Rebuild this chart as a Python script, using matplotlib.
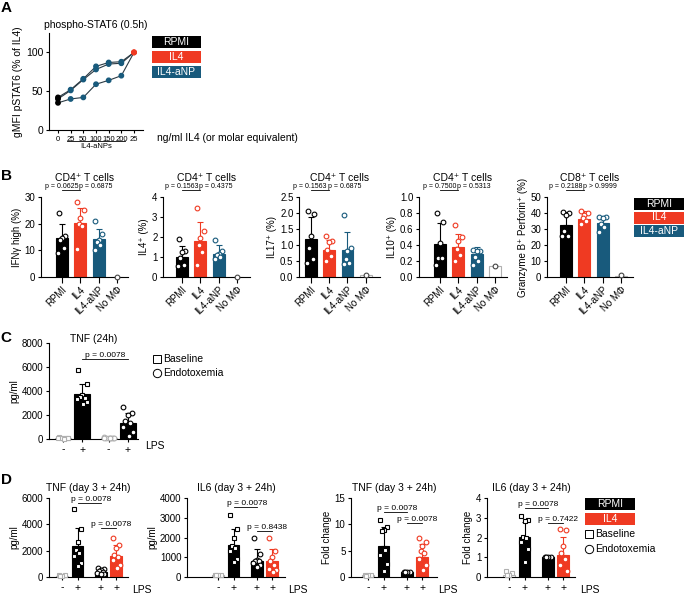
import numpy as np
import matplotlib
matplotlib.use("Agg")
import matplotlib.pyplot as plt
import matplotlib.transforms as mtransforms
from matplotlib.patches import Rectangle

plt.rcParams['font.family'] = ['Liberation Sans', 'DejaVu Sans']
plt.rcParams['font.size'] = 7
plt.rcParams['axes.linewidth'] = 0.8
plt.rcParams['xtick.major.width'] = 0.8
plt.rcParams['ytick.major.width'] = 0.8
plt.rcParams['xtick.major.size'] = 2.5
plt.rcParams['ytick.major.size'] = 2.5
plt.rcParams['xtick.major.pad'] = 1.5
plt.rcParams['ytick.major.pad'] = 1.5
plt.rcParams['axes.labelpad'] = 2

W, H = 684, 594
RED = '#EF3A22'
TEAL = '#185A7C'
GREY = '#B0B0B0'

# ---- A: phospho-STAT6 dose response (% of IL4)
a_ticks = ['0', '25', '50', '100', '150', '200', '25']
a_rep1 = [42, 52, 66, 82, 87, 88, 100]
a_rep2 = [40, 51, 65, 78, 85, 86, 100]
a_rep3 = [35, 40, 42, 59, 64, 70, 100]

# ---- B: T cell readouts
b_groups = ['RPMI', 'IL4', 'IL4-aNP', 'No MΦ']
ifng_mean = [14.8, 20.4, 14.3, 0]
ifng_sd = [5.0, 5.6, 3.7, 0]
ifng_pts = [[24, 15.5, 14.5, 14, 11, 9], [28, 25, 22, 20, 19, 10.5],
            [21, 16, 14, 13, 12, 10], [0]]
il4_mean = [1.02, 1.8, 1.16, 0]
il4_sd = [0.55, 0.96, 0.44, 0]
il4_pts = [[1.9, 1.3, 1.25, 0.95, 0.6, 0.55], [3.45, 2.3, 1.95, 1.6, 1.25, 0.6],
           [1.85, 1.3, 1.15, 1.1, 1.0, 0.9], [0]]
il17_mean = [1.18, 0.83, 0.83, 0.05]
il17_sd = [0.69, 0.33, 0.58, 0]
il17_pts = [[2.05, 1.97, 1.28, 0.9, 0.57, 0.44], [1.28, 1.12, 1.1, 0.85, 0.67, 0.49],
            [1.95, 0.9, 0.8, 0.55, 0.45, 0.4], [0.07]]
il10_mean = [0.41, 0.38, 0.29, 0.14]
il10_sd = [0.27, 0.16, 0.09, 0]
il10_pts = [[0.8, 0.69, 0.43, 0.24, 0.24, 0.15], [0.65, 0.5, 0.45, 0.35, 0.28, 0.2],
            [0.34, 0.33, 0.32, 0.25, 0.2, 0.15], [0.14]]
gzmb_mean = [32.8, 36.2, 33.7, 0.5]
gzmb_sd = [7.9, 5.1, 4.5, 0]
gzmb_pts = [[40.5, 40, 38.5, 29, 25.5, 25.5], [41, 40, 39, 37, 35, 33],
            [37.6, 37.3, 37, 33, 31, 28.4], [1]]

# ---- C: TNF (24h)
lps_c = ['-', '+', '-', '+']
tnf24_mean = [90, 3740, 80, 1360]
tnf24_sd = [0, 840, 0, 790]
tnf24_pts = [[150, 120, 100, 100, 80, 60, 50, 40],
             [5770, 4600, 3700, 3500, 3400, 3300, 3100, 2900],
             [130, 110, 100, 90, 80, 70, 60, 50],
             [2700, 2150, 2000, 1500, 1300, 1000, 600, 250]]

# ---- D: day 3 + 24h
lps_d = ['-', '+', '+', '+']
d_tnf_mean = [100, 2330, 350, 1570]
d_tnf_sd = [0, 1390, 180, 880]
d_tnf_pts = [[150, 120, 100, 80], [5170, 3670, 2630, 2080, 1820, 1620, 1060, 810],
             [700, 600, 550, 450, 400, 300, 250, 200],
             [2970, 2450, 2200, 1700, 1500, 1300, 900, 700]]
d_il6_mean = [80, 1640, 800, 800]
d_il6_sd = [0, 790, 600, 600]
d_il6_pts = [[120, 100, 90, 80], [3160, 2430, 1950, 1550, 1450, 1300, 900, 750],
             [2000, 1150, 850, 800, 800, 700, 600, 500],
             [1950, 1300, 1000, 800, 600, 400, 350, 250]]
d_tnf_fc_mean = [0.3, 5.85, 1.0, 3.85]
d_tnf_fc_sd = [0, 3.65, 0, 2.35]
d_tnf_fc_pts = [[0.45, 0.35, 0.3, 0.25], [10.9, 9.4, 9.0, 8.7, 5.2, 4.1, 2.4, 1.2],
                [1, 1, 1, 1], [7.5, 6.7, 5.8, 4.9, 4.5, 3.4, 2.2, 1.3]]
d_il6_fc_mean = [0.12, 2.03, 1.0, 1.13]
d_il6_fc_sd = [0, 0.74, 0, 0.9]
d_il6_fc_pts = [[0.28, 0.2, 0.12, 0.1], [3.07, 2.9, 2.85, 2.05, 2.0, 1.75, 1.4, 0.75],
                [1, 1, 1, 1], [2.45, 2.4, 1.55, 1.2, 0.9, 0.6, 0.3]]

fig = plt.figure(figsize=(W / 100, H / 100), dpi=100)


def px_axes(l, t, r, b):
    ax = fig.add_axes([l / W, 1 - b / H, (r - l) / W, (b - t) / H])
    ax.spines[['top', 'right']].set_visible(False)
    return ax


SPREAD = [-0.18, 0.18, 0.0, -0.1, 0.1, -0.2, 0.2, 0.04]


def bar_dots(ax, xs, means, sds, pts, faces, edges, marks, dot_edges=None, width=0.65, ms=3.4):
    dot_edges = dot_edges or edges
    for x, m, s, p, fc, ec, de, mk in zip(xs, means, sds, pts, faces, edges, dot_edges, marks):
        ax.bar(x, m, width=width, color=fc, edgecolor=ec, linewidth=0.8, zorder=2)
        if s > 0:
            ax.errorbar(x, m, yerr=[[0], [s]], fmt='none', ecolor=ec, elinewidth=0.8,
                        capsize=2.2, capthick=0.8, zorder=1.5)
        offs = [0.0] if len(p) == 1 else np.array(SPREAD[:len(p)]) * width / 0.65
        ax.plot(x + np.asarray(offs), p, ls='none', marker=mk, ms=ms, mfc='white',
                mec=de, mew=0.8, zorder=3, clip_on=False)


def pval(ax, x1, x2, y, text, dx=0.15):
    ax.plot([x1, x2], [y, y], color='black', lw=0.6, clip_on=False)
    ax.text((x1 + x2) / 2 + dx, y, text, ha='center', va='bottom', fontsize=6, clip_on=False)


# ================= A
axA = px_axes(49, 33, 143, 130)
xa = np.arange(len(a_ticks))
for rep in (a_rep1, a_rep2, a_rep3):
    axA.plot(xa, rep, color='#2a3a44', lw=0.8, zorder=2)
    dot_cols = ['black'] + [TEAL] * 5 + [RED]
    axA.scatter(xa, rep, c=dot_cols, s=10, zorder=3, clip_on=False)
axA.set_xlim(-0.71, 6.71)
axA.set_ylim(0, 125)
axA.set_yticks([0, 50, 100])
axA.tick_params(axis='y', labelsize=7.5)
axA.set_xticks(xa)
axA.set_xticklabels(a_ticks, fontsize=5.5)
axA.set_ylabel('gMFI pSTAT6 (% of IL4)', fontsize=7.5)
axA.text(0.5, 1.08, 'phospho-STAT6 (0.5h)', transform=axA.transAxes, ha='center', va='center', fontsize=7.5)
trA = mtransforms.blended_transform_factory(axA.transData, axA.transAxes)
axA.plot([0.75, 5.25], [-0.115, -0.115], color='black', lw=0.6, transform=trA, clip_on=False)
axA.text(3, -0.165, 'IL4-aNPs', transform=trA, ha='center', va='center', fontsize=5.5)

# ================= B
b_specs = [
    (41, 128, -1.15, ifng_mean, ifng_sd, ifng_pts, 'IFNγ high (%)', 30, 10, 'CD4⁺ T cells', 'p = 0.0625', 'p = 0.6875'),
    (163, 250, -1.04, il4_mean, il4_sd, il4_pts, 'IL4⁺ (%)', 4, 1, 'CD4⁺ T cells', 'p = 0.1563', 'p = 0.4375'),
    (299, 380, -0.65, il17_mean, il17_sd, il17_pts, 'IL17⁺ (%)', 2.5, 0.5, 'CD4⁺ T cells', 'p = 0.1563', 'p = 0.6875'),
    (419, 507, -1.15, il10_mean, il10_sd, il10_pts, 'IL10⁺ (%)', 1.0, 0.2, 'CD4⁺ T cells', 'p = 0.7500', 'p = 0.5313'),
    (547, 633, -1.04, gzmb_mean, gzmb_sd, gzmb_pts, 'Granzyme B⁺ Perforin⁺ (%)', 50, 10, 'CD8⁺ T cells', 'p = 0.2188', 'p > 0.9999'),
]
xb = np.arange(len(b_groups))
for l, r, x0, mean, sd, pts, ylab, ytop, ystep, title, p1, p2 in b_specs:
    ax = px_axes(l, 197, r, 277)
    bar_dots(ax, xb, mean, sd, pts, ['black', RED, TEAL, 'white'], ['black', RED, TEAL, GREY],
             ['o'] * 4, dot_edges=['black', RED, TEAL, '#444444'])
    ax.set_xlim(x0, x0 + (r - l) / 18.3)
    ax.set_ylim(0, ytop)
    ax.set_yticks(np.arange(0, ytop + ystep / 2, ystep))
    ax.set_xticks(xb)
    ax.set_xticklabels(b_groups, rotation=45, ha='right', rotation_mode='anchor')
    ax.tick_params(axis='x', length=4)
    ax.set_ylabel(ylab)
    ax.text(0.5, 1.24, title, transform=ax.transAxes, ha='center', va='center', fontsize=7.5)
    tr = mtransforms.blended_transform_factory(ax.transData, ax.transAxes)
    ax.plot([0, 1], [1.085, 1.085], color='black', lw=0.6, transform=tr, clip_on=False)
    ax.text(0.88, 1.085, p1, transform=tr, ha='right', va='bottom', fontsize=5)
    ax.text(0.92, 1.085, p2, transform=tr, ha='left', va='bottom', fontsize=5)

# ================= C
axC = px_axes(49, 343, 138, 439)
xc = np.array([0, 1, 2.4, 3.4])
bar_dots(axC, xc, tnf24_mean, tnf24_sd, tnf24_pts, ['white', 'black', 'white', 'black'],
         [GREY, 'black', GREY, 'black'], ['s', 's', 'o', 'o'], width=0.85)
axC.set_xlim(-0.74, -0.74 + 89 / 19)
axC.set_ylim(0, 8000)
axC.set_yticks(np.arange(0, 8001, 2000))
axC.set_xticks(xc)
axC.set_xticklabels(lps_c, fontsize=7.5)
axC.set_ylabel('pg/ml')
axC.text(0.5, 1.04, 'TNF (24h)', transform=axC.transAxes, ha='center', va='center', fontsize=7.5)
pval(axC, 1, 3.4, 6650, 'p = 0.0078', dx=0.0)

# ================= D
d_specs = [
    (49, 128, -0.84, d_tnf_mean, d_tnf_sd, d_tnf_pts, 'pg/ml', 6000, 2000, 'TNF (day 3 + 24h)',
     [(1, 2.5, 5600, 'p = 0.0078'), (2.5, 3.5, 3730, 'p = 0.0078')]),
    (187, 285, -2.0, d_il6_mean, d_il6_sd, d_il6_pts, 'pg/ml', 4000, 1000, 'IL6 (day 3 + 24h)',
     [(1, 2.5, 3540, 'p = 0.0078'), (2.5, 3.5, 2340, 'p = 0.8438')]),
    (351, 437, -1.1, d_tnf_fc_mean, d_tnf_fc_sd, d_tnf_fc_pts, 'Fold change', 15, 5, 'TNF (day 3 + 24h)',
     [(1, 2.5, 12.3, 'p = 0.0078'), (2.5, 3.5, 10.3, 'p = 0.0078')]),
    (487, 575, -1.42, d_il6_fc_mean, d_il6_fc_sd, d_il6_fc_pts, 'Fold change', 4, 1, 'IL6 (day 3 + 24h)',
     [(1, 2.5, 3.47, 'p = 0.0078'), (2.5, 3.5, 2.73, 'p = 0.7422')]),
]
xd = np.array([0, 1, 2.5, 3.5])
for l, r, x0, mean, sd, pts, ylab, ytop, ystep, title, pvals in d_specs:
    ax = px_axes(l, 498, r, 577)
    bar_dots(ax, xd, mean, sd, pts, ['white', 'black', 'black', RED], [GREY, 'black', 'black', RED],
             ['s', 's', 'o', 'o'], width=0.75)
    ax.set_xlim(x0, x0 + (r - l) / 15.5)
    ax.set_ylim(0, ytop)
    ax.set_yticks(np.arange(0, ytop + ystep / 2, ystep))
    ax.set_xticks(xd)
    ax.set_xticklabels(lps_d, fontsize=7.5)
    ax.set_ylabel(ylab)
    ax.text(0.5, 1.127, title, transform=ax.transAxes, ha='center', va='center', fontsize=7.5)
    for x1, x2, y, t in pvals:
        pval(ax, x1, x2, y, t)

# ================= overlay: letters, legends, free text
ov = fig.add_axes([0, 0, 1, 1])
ov.set_xlim(0, W)
ov.set_ylim(H, 0)
ov.axis('off')

for letter, x, y in [('A', 6, 8), ('B', 7, 176), ('C', 6, 338), ('D', 7, 480)]:
    ov.text(x, y, letter, fontsize=11, fontweight='bold', ha='center', va='center')


def color_keys(x, ys, w, h, labels, colors):
    for y, lab, col in zip(ys, labels, colors):
        ov.add_patch(Rectangle((x, y), w, h, facecolor=col, edgecolor='none'))
        ov.text(x + w / 2, y + h / 2, lab, color='white', ha='center', va='center', fontsize=7.5)


color_keys(152, [36, 51, 66], 49, 11.5, ['RPMI', 'IL4', 'IL4-aNP'], ['black', RED, TEAL])
color_keys(634, [198, 211.5, 225], 50, 12, ['RPMI', 'IL4', 'IL4-aNP'], ['black', RED, TEAL])
color_keys(585, [498, 513], 50, 11.5, ['RPMI', 'IL4'], ['black', RED])

ov.text(157, 138, 'ng/ml IL4 (or molar equivalent)', ha='left', va='center', fontsize=7.5)


def shape_keys(x, ys):
    for y, mk, lab in zip(ys, ['s', 'o'], ['Baseline', 'Endotoxemia']):
        ov.plot(x, y, marker=mk, ms=6, mfc='none', mec='black', mew=0.7)
        ov.text(x + 6, y, lab, ha='left', va='center', fontsize=7.5)


shape_keys(157, [359, 373])
shape_keys(589, [534, 549])

for x, y in [(155, 446), (142, 590), (298, 590), (448, 590), (590, 590)]:
    ov.text(x, y, 'LPS', ha='center', va='center', fontsize=7.5)

fig.savefig('out.png', dpi=100)
